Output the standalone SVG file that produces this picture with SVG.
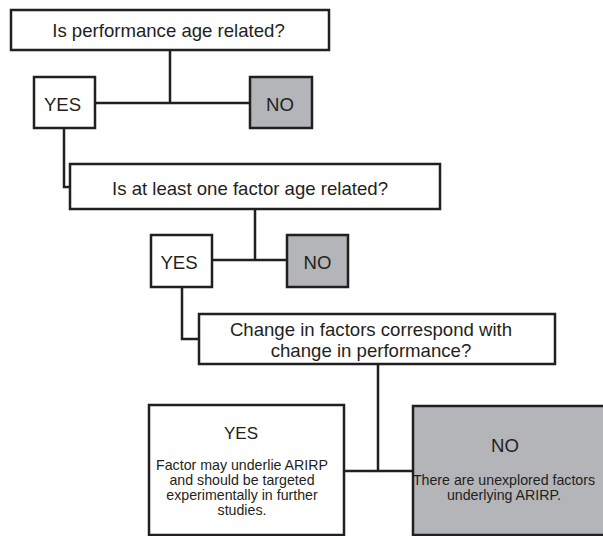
<svg xmlns="http://www.w3.org/2000/svg" width="603" height="536" viewBox="0 0 603 536">
<style>
.box{fill:#fff;stroke:#231f20;stroke-width:2.5}
.no{fill:#b4b5b8;stroke:#231f20;stroke-width:2.5}
.t{font-family:"Liberation Sans",Arial,sans-serif;fill:#231f20;text-anchor:middle}
.big{font-size:18.6px}
.sm{font-size:14.2px}
.ln{fill:none;stroke:#231f20;stroke-width:2.5}
</style>
<rect width="603" height="536" fill="#fff"/>
<g id="connectors">
<path class="ln" d="M170 50 V103 M95 103 H250"/>
<path class="ln" d="M64 128 V187 H70"/>
<path class="ln" d="M255 209 V260 M212 260 H287"/>
<path class="ln" d="M182 287 V339 H199"/>
<path class="ln" d="M378 364 V471 M344 471 H413"/>
</g>
<g id="q1"><rect class="box" x="11" y="10" width="318" height="40"/><text class="t big" x="168.5" y="37">Is performance age related?</text></g>
<g id="yes1"><rect class="box" x="34" y="77" width="61" height="51"/><text class="t big" x="62.5" y="111">YES</text></g>
<g id="no1"><rect class="no" x="250" y="77" width="62" height="51"/><text class="t big" x="280" y="111">NO</text></g>
<g id="q2"><rect class="box" x="70" y="164" width="370" height="45"/><text class="t big" x="250" y="195">Is at least one factor age related?</text></g>
<g id="yes2"><rect class="box" x="151" y="235" width="61" height="52"/><text class="t big" x="179" y="269">YES</text></g>
<g id="no2"><rect class="no" x="287" y="235" width="61" height="52"/><text class="t big" x="317.5" y="269">NO</text></g>
<g id="q3"><rect class="box" x="199" y="314" width="356" height="50"/><text class="t big" x="371" y="336">Change in factors correspond with</text><text class="t big" x="371" y="357">change in performance?</text></g>
<g id="yes3"><rect class="box" x="149" y="405" width="195" height="130"/><text class="t" style="font-size:17px" x="241" y="439">YES</text><text class="t sm" x="242" y="470">Factor may underlie ARIRP</text><text class="t sm" x="242" y="485">and should be targeted</text><text class="t sm" x="242" y="500">experimentally in further</text><text class="t sm" x="242" y="515">studies.</text></g>
<g id="no3"><rect class="no" x="413" y="406" width="200" height="129"/><text class="t big" x="505" y="452">NO</text><text class="t sm" x="504" y="485">There are unexplored factors</text><text class="t sm" x="504" y="500">underlying ARIRP.</text></g>
</svg>
